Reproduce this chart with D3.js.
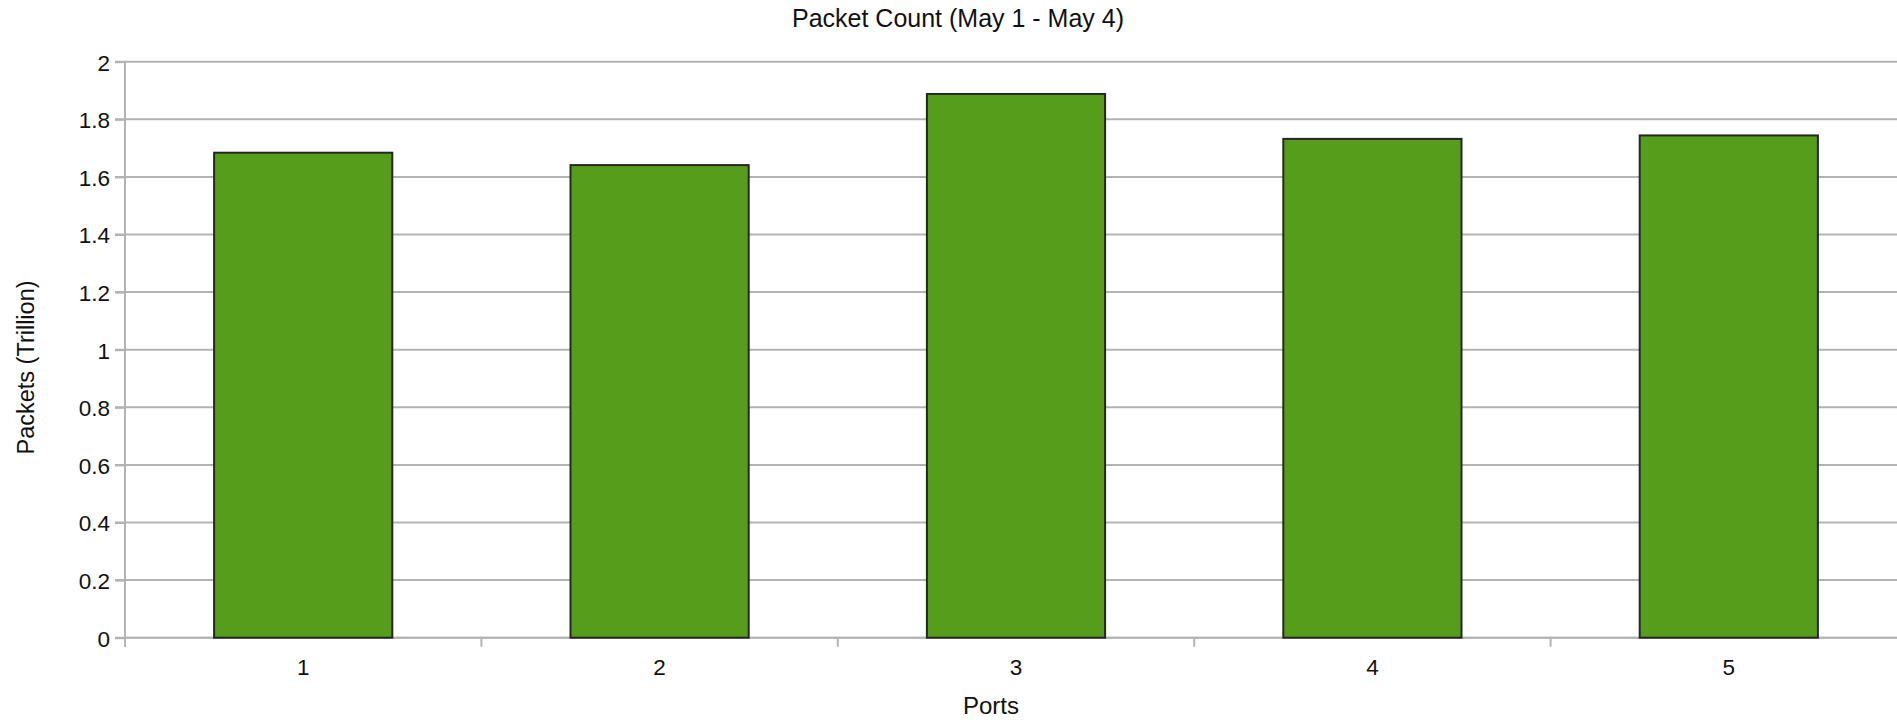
<!DOCTYPE html>
<html>
<head>
<meta charset="utf-8">
<script src="https://cdn.jsdelivr.net/npm/d3@7"></script>
<style>
  html, body { margin: 0; padding: 0; background: #fff; overflow: hidden; }
  svg { display: block; font-family: "Liberation Sans", Arial, sans-serif; }
</style>
</head>
<body>
<svg id="chart" width="1897" height="720"></svg>
<script>
// Packet totals per port, in trillions
const ports = ["1", "2", "3", "4", "5"];
const packets = [1.684, 1.641, 1.888, 1.732, 1.744];
const yTicks = [0, 0.2, 0.4, 0.6, 0.8, 1, 1.2, 1.4, 1.6, 1.8, 2];

const chartTitle = "Packet Count (May 1 - May 4)";
const xTitle = "Ports";
const yTitle = "Packets (Trillion)";

const W = 1897, H = 720;
const plot = { left: 125, right: 1907, top: 61.7, bottom: 637.7 };

const svg = d3.select("#chart");

const x = d3.scaleBand().domain(ports).range([plot.left, plot.right]).padding(0);
const y = d3.scaleLinear().domain([0, 2]).range([plot.bottom, plot.top]);

const gridColor = "#b3b3b3";
const textColor = "#111";

// horizontal gridlines
svg.append("g")
  .selectAll("line")
  .data(yTicks)
  .join("line")
  .attr("x1", plot.left - 10)
  .attr("x2", W)
  .attr("y1", d => y(d))
  .attr("y2", d => y(d))
  .attr("stroke", gridColor)
  .attr("stroke-width", 2);

// y axis
const yAxis = svg.append("g")
  .attr("transform", `translate(${plot.left},0)`)
  .call(d3.axisLeft(y).tickValues(yTicks).tickFormat(d3.format("~g")).tickSize(10).tickPadding(5));
yAxis.select(".domain").attr("stroke", gridColor).attr("stroke-width", 2)
  .attr("d", `M0,${plot.top}V${plot.bottom + 9}`);
yAxis.selectAll(".tick line").attr("stroke", gridColor).attr("stroke-width", 2);
yAxis.selectAll(".tick text")
  .attr("font-size", 22.5)
  .attr("fill", textColor)
  .attr("font-family", "Liberation Sans, Arial, sans-serif")
  .attr("dy", "0.37em");

// x axis: category boundary ticks
const xAxis = svg.append("g")
  .attr("transform", `translate(0,${plot.bottom})`);
xAxis.append("line")
  .attr("x1", plot.left).attr("x2", W)
  .attr("stroke", gridColor).attr("stroke-width", 2);
const boundaries = ports.map(p => x(p)).concat([x(ports[ports.length - 1]) + x.bandwidth()]);
xAxis.selectAll("line.b")
  .data(boundaries)
  .join("line")
  .attr("class", "b")
  .attr("x1", d => d).attr("x2", d => d)
  .attr("y1", 0).attr("y2", 9)
  .attr("stroke", gridColor).attr("stroke-width", 2);
xAxis.selectAll("text")
  .data(ports)
  .join("text")
  .attr("x", d => x(d) + x.bandwidth() / 2)
  .attr("y", 37)
  .attr("text-anchor", "middle")
  .attr("font-size", 22.5)
  .attr("fill", textColor)
  .text(d => d);

// bars
svg.append("g")
  .selectAll("rect")
  .data(ports.map((p, i) => ({ p, v: packets[i] })))
  .join("rect")
  .attr("x", d => x(d.p) + x.bandwidth() * 0.25)
  .attr("width", x.bandwidth() * 0.5)
  .attr("y", d => y(d.v))
  .attr("height", d => y(0) - y(d.v))
  .attr("fill", "#579d1c")
  .attr("stroke", "#262626")
  .attr("stroke-width", 2);

// titles
svg.append("text")
  .attr("x", 958).attr("y", 27)
  .attr("text-anchor", "middle")
  .attr("font-size", 25)
  .attr("fill", textColor)
  .text(chartTitle);

svg.append("text")
  .attr("x", 991).attr("y", 714)
  .attr("text-anchor", "middle")
  .attr("font-size", 24)
  .attr("fill", textColor)
  .text(xTitle);

svg.append("text")
  .attr("transform", "translate(34,367.5) rotate(-90)")
  .attr("text-anchor", "middle")
  .attr("font-size", 23.5)
  .attr("fill", textColor)
  .text(yTitle);
</script>
</body>
</html>
